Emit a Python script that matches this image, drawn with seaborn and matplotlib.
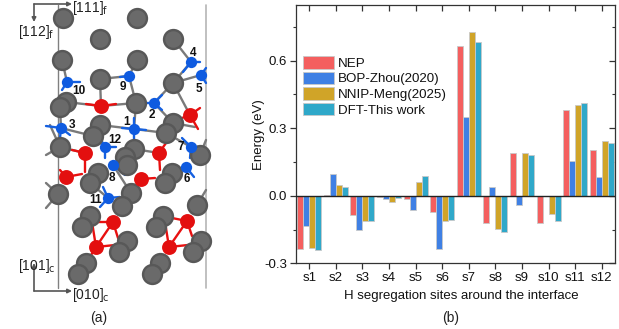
import matplotlib
matplotlib.use("Agg")
import matplotlib.pyplot as plt
import seaborn as sns
import pandas as pd
from matplotlib.ticker import MultipleLocator

sns.set_style("white")
plt.rcParams["font.family"] = ["Liberation Sans", "DejaVu Sans"]

sites = ["s1", "s2", "s3", "s4", "s5", "s6", "s7", "s8", "s9", "s10", "s11", "s12"]
nep = [-0.236, 0.005, -0.085, -0.007, -0.013, -0.073, 0.667, -0.123, 0.19, -0.123, 0.38, 0.205]
bop = [-0.135, 0.096, -0.153, -0.016, -0.065, -0.238, 0.35, 0.04, -0.04, 0.0, 0.153, 0.083]
nnip = [-0.233, 0.047, -0.111, -0.027, 0.059, -0.114, 0.726, -0.147, 0.188, -0.08, 0.403, 0.242]
dft = [-0.243, 0.04, -0.111, -0.01, 0.09, -0.108, 0.685, -0.16, 0.18, -0.11, 0.41, 0.236]
series_names = ["NEP", "BOP-Zhou(2020)", "NNIP-Meng(2025)", "DFT-This work"]
colors = ["#F45F5F", "#3F80E4", "#D0A428", "#2FA8C9"]

# Crystal structure sketch, in picture coordinates
grey_atoms = [(63, 18), (137, 18), (100, 39), (173, 39), (62, 60), (137, 60), (100, 79), (173, 83),
              (60, 107), (66, 102), (136, 103), (173, 123), (100, 125), (93, 136), (166, 133),
              (60, 147), (125, 157), (134, 149), (200, 155), (127, 165), (58, 194), (90, 183),
              (98, 173), (131, 193), (122, 206), (165, 183), (172, 173), (197, 205), (82, 227),
              (90, 216), (156, 227), (163, 216), (119, 252), (127, 241), (193, 252), (201, 241),
              (86, 263), (78, 274), (160, 263), (152, 274)]
blue_atoms = [(67, 82), (129, 76), (191, 62), (201, 75), (154, 103), (134, 129), (61, 128),
              (105, 147), (191, 147), (113, 165), (186, 167), (108, 198)]
red_atoms = [(101, 106), (190, 115), (85, 153), (159, 153), (66, 177), (141, 179), (113, 222),
             (187, 221), (96, 247), (169, 247)]
grey_bonds = [((62, 60), (67, 82)), ((137, 60), (129, 76)), ((100, 79), (129, 76)), ((173, 39), (191, 62)),
              ((173, 83), (191, 62)), ((173, 83), (201, 75)), ((173, 83), (154, 103)), ((129, 76), (136, 103)),
              ((66, 102), (101, 106)), ((136, 103), (101, 106)), ((100, 79), (101, 106)), ((173, 83), (190, 115)),
              ((100, 125), (134, 129)), ((134, 129), (166, 133)), ((154, 103), (173, 123)), ((61, 128), (93, 136)),
              ((136, 103), (134, 129)), ((173, 123), (195, 127)), ((60, 147), (85, 153)), ((134, 149), (159, 153)),
              ((60, 107), (61, 128)), ((50, 125), (60, 147)), ((46, 155), (60, 147)), ((46, 183), (58, 194)),
              ((46, 208), (58, 194)), ((113, 165), (131, 193)), ((90, 183), (108, 198)), ((166, 133), (191, 147)),
              ((93, 136), (105, 147)), ((197, 205), (206, 190)), ((200, 155), (206, 140))]
blue_bonds = [((67, 82), (80, 82)), ((67, 82), (62, 90)), ((129, 76), (120, 77)), ((191, 62), (200, 62)),
              ((191, 62), (183, 72)), ((201, 75), (206, 68)), ((201, 75), (206, 83)), ((154, 103), (162, 95)),
              ((154, 103), (146, 103)), ((154, 103), (162, 110)), ((134, 129), (122, 128)), ((134, 129), (146, 130)),
              ((134, 129), (134, 141)), ((134, 129), (134, 118)), ((61, 128), (46, 126)), ((61, 128), (70, 135)),
              ((61, 128), (60, 138)), ((105, 147), (100, 138)), ((105, 147), (105, 158)), ((105, 147), (116, 147)),
              ((191, 147), (182, 138)), ((191, 147), (202, 147)), ((191, 147), (190, 158)), ((113, 165), (125, 175)),
              ((186, 167), (176, 173)), ((186, 167), (194, 177)), ((108, 198), (103, 187)), ((108, 198), (100, 207)),
              ((108, 198), (120, 197))]
red_bonds = [((101, 106), (86, 104)), ((101, 106), (116, 104)), ((190, 115), (200, 108)), ((190, 115), (198, 129)),
             ((190, 115), (182, 118)), ((85, 153), (85, 172)), ((85, 153), (72, 150)), ((159, 153), (166, 143)),
             ((159, 153), (160, 170)), ((66, 177), (82, 174)), ((66, 177), (60, 170)), ((141, 179), (155, 178)),
             ((141, 179), (134, 190)), ((113, 222), (96, 247)), ((113, 222), (96, 222)), ((113, 222), (118, 238)),
             ((96, 247), (92, 222)), ((96, 247), (115, 245)), ((96, 247), (88, 260)), ((187, 221), (169, 247)),
             ((187, 221), (172, 218)), ((187, 221), (192, 236)), ((169, 247), (165, 222)), ((169, 247), (188, 245))]
site_numbers = [("1", 127, 122), ("2", 152, 115), ("3", 72, 125), ("4", 193, 53), ("5", 199, 89), ("6", 187, 179),
                ("7", 181, 147), ("8", 112, 178), ("9", 123, 87), ("10", 79, 91), ("11", 96, 200), ("12", 115, 140)]

W, H = 619, 329
fig = plt.figure(figsize=(W / 100, H / 100), dpi=100)

# ---------- left panel ----------
left = fig.add_axes([0, 0, 1, 1])
left.set_xlim(0, W)
left.set_ylim(H, 0)
left.axis("off")
left.plot([58, 58], [5, 288], color="#808080", lw=1.0, zorder=1)
left.plot([206, 206], [5, 288], color="#b5b5b5", lw=1.2, zorder=1)
for bonds, c in ((grey_bonds, "#7a7a7a"), (blue_bonds, "#1560e0"), (red_bonds, "#e81010")):
    for a, b in bonds:
        left.plot([a[0], b[0]], [a[1], b[1]], color=c, lw=1.7, solid_capstyle="round", zorder=2)

z = 3.0
for x, y in sorted(grey_atoms, key=lambda p: p[1]):
    left.scatter([x], [y], s=235, color="#585858", linewidths=0, zorder=z)
    left.scatter([x - 0.5], [y - 0.5], s=140, color="#6a6a6a", linewidths=0, zorder=z + 0.001)
    z += 0.01
for pts, c in ((blue_atoms, "#0f5be0"), (red_atoms, "#e30f0f")):
    left.scatter(*zip(*pts), s=66 if c == "#0f5be0" else 115, color=c, linewidths=0, zorder=z + 1)
for t, x, y in site_numbers:
    left.text(x, y, t, fontsize=8.5, fontweight="bold", color="#111111", ha="center", va="center", zorder=10)

arrow = dict(arrowstyle="-|>", color="#555555", lw=1.2, mutation_scale=6, shrinkA=0, shrinkB=0)
left.annotate("", xy=(72, 4), xytext=(34, 4), arrowprops=arrow, zorder=9)
left.annotate("", xy=(34, 22), xytext=(34, 4), arrowprops=arrow, zorder=9)
left.annotate("", xy=(72, 291), xytext=(34, 291), arrowprops=arrow, zorder=9)
left.annotate("", xy=(34, 263), xytext=(34, 291), arrowprops=arrow, zorder=9)
lab = dict(fontsize=10, color="#222222", va="center", ha="left", zorder=10)
left.text(72, 8, r"[111]$_{\mathrm{f}}$", **lab)
left.text(18, 32, r"[112]$_{\mathrm{f}}$", **lab)
left.text(18, 266, r"[101]$_{\mathrm{c}}$", **lab)
left.text(72, 295, r"[010]$_{\mathrm{c}}$", **lab)
left.text(99, 318, "(a)", fontsize=10, color="#222222", ha="center", va="center")

# ---------- right panel ----------
ax = fig.add_axes([296 / W, 1 - 263.3 / H, (615 - 296) / W, (263.3 - 5) / H])
df = pd.DataFrame({"site": sites * 4,
                   "series": sum([[n] * len(sites) for n in series_names], []),
                   "value": nep + bop + nnip + dft})
sns.barplot(data=df, x="site", y="value", hue="series", hue_order=series_names, order=sites,
            palette=colors, saturation=1, width=0.9, gap=0, edgecolor="#c9c9c9", linewidth=0.6,
            ax=ax, legend=False, errorbar=None)
ax.set_xlim(-0.5, 11.5)
ax.set_ylim(-0.3, 0.8475)
ax.axhline(0, color="#222222", lw=1.0, zorder=5)
ax.set_yticks([-0.3, 0, 0.3, 0.6])
ax.set_yticklabels(["-0.3", "0.0", "0.3", "0.6"])
ax.yaxis.set_minor_locator(MultipleLocator(0.15))
ax.tick_params(axis="both", which="major", direction="out", length=4, width=0.9, color="#333333",
               labelsize=9.5, labelcolor="#111111", pad=2.5, left=True, bottom=True)
ax.tick_params(axis="y", which="minor", direction="out", length=2.5, width=0.8, color="#333333", left=True)
ax.set_xlabel("H segregation sites around the interface", fontsize=9.55, color="#111111", labelpad=4,
              x=(461.5 - 296) / (615 - 296))
ax.set_ylabel("Energy (eV)", fontsize=9.5, color="#111111", labelpad=-1)
for s in ax.spines.values():
    s.set_visible(True)
    s.set_color("#333333")
    s.set_linewidth(0.9)

top = ax.secondary_xaxis("top")
top.set_xticks(range(len(sites)))
top.set_xticklabels([])
top.tick_params(direction="in", length=4, width=0.9, color="#333333")
right = ax.secondary_yaxis("right")
right.set_yticks([-0.3, 0, 0.3, 0.6])
right.set_yticklabels([])
right.yaxis.set_minor_locator(MultipleLocator(0.15))
right.tick_params(which="major", direction="in", length=4, width=0.9, color="#333333")
right.tick_params(which="minor", direction="in", length=2.5, width=0.8, color="#333333")
for sec in (top, right):
    for s in sec.spines.values():
        s.set_visible(False)

handles = [plt.Rectangle((0, 0), 1, 1, facecolor=c, edgecolor="#c9c9c9", linewidth=0.6) for c in colors]
ax.legend(handles, series_names, loc="upper left", bbox_to_anchor=(303 / W, 1 - 56 / H),
          bbox_transform=fig.transFigure, frameon=False, fontsize=9.6, handlelength=2.3, handleheight=1.1,
          labelspacing=0.12, handletextpad=0.35, borderpad=0, borderaxespad=0, labelcolor="#111111")
fig.text(451 / W, 1 - 318 / H, "(b)", fontsize=10, color="#222222", ha="center", va="center")

fig.savefig("out.png", dpi=100)
